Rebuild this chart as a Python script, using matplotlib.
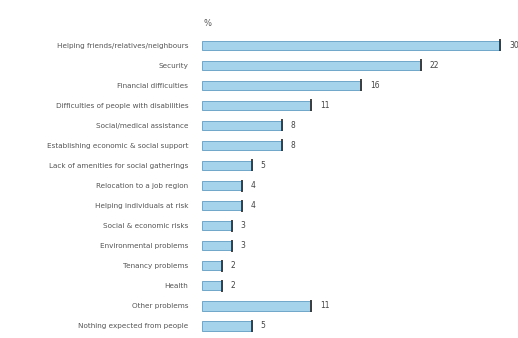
import matplotlib
matplotlib.use("Agg")
import matplotlib.pyplot as plt
import numpy as np

# categories (top to bottom) and their share in %
labels = [
    "Helping friends/relatives/neighbours",
    "Security",
    "Financial difficulties",
    "Difficulties of people with disabilities",
    "Social/medical assistance",
    "Establishing economic & social support",
    "Lack of amenities for social gatherings",
    "Relocation to a job region",
    "Helping individuals at risk",
    "Social & economic risks",
    "Environmental problems",
    "Tenancy problems",
    "Health",
    "Other problems",
    "Nothing expected from people",
]
values = [30, 22, 16, 11, 8, 8, 5, 4, 4, 3, 3, 2, 2, 11, 5]

fig = plt.figure(figsize=(5.18, 3.38), dpi=100)
ax = fig.add_axes([0.39, 0.003, 0.61, 0.911])

y = np.arange(len(values))
ax.barh(y, values, height=0.46, color="#a6d3ec", edgecolor="#6fa6c8", linewidth=0.7)
# dark cap at the end of each bar
ax.vlines(values, y - 0.3, y + 0.3, color="#333333", linewidth=1.3)

for yi, v in zip(y, values):
    ax.text(v + 0.9, yi, str(v), va="center", ha="left", fontsize=5.5, color="#444444")

ax.set_yticks(y)
ax.set_yticklabels(labels, fontsize=5.2, color="#555555")
ax.tick_params(axis="y", length=0, pad=10)
ax.set_xticks([])
ax.set_xlim(0, 31.8)
ax.set_ylim(14.55, -0.8)
for s in ax.spines.values():
    s.set_visible(False)

fig.text(0.392, 0.93, "%", fontsize=6, color="#555555", ha="left", va="center")

fig.savefig("out.png", dpi=100)
